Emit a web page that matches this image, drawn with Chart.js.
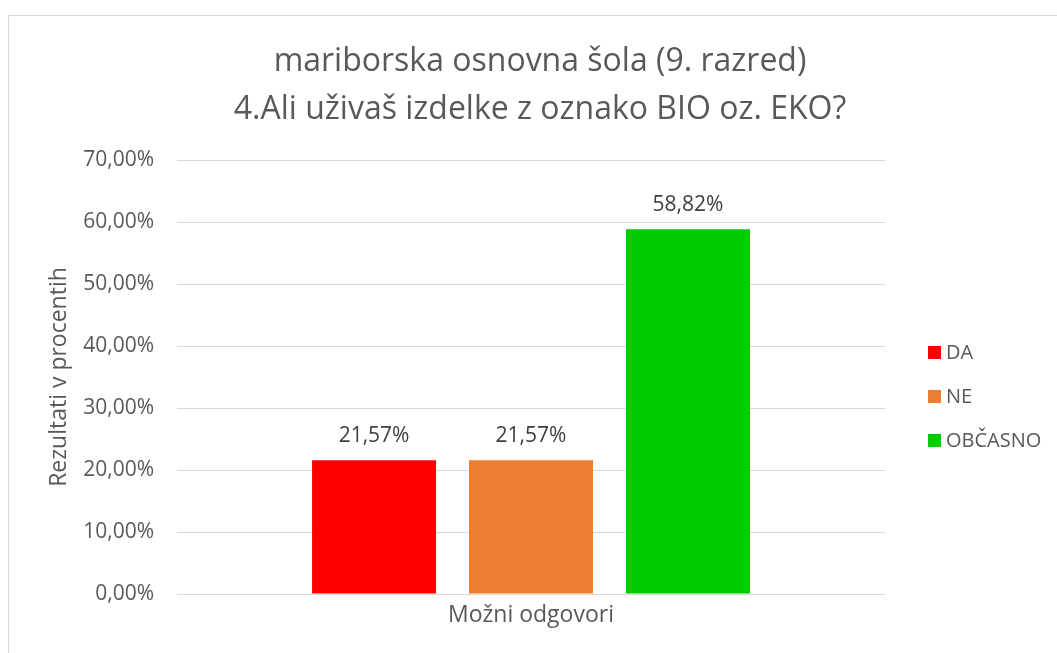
<!DOCTYPE html>
<html>
<head>
<meta charset="utf-8">
<script src="https://cdn.jsdelivr.net/npm/chart.js@4/dist/chart.umd.min.js"></script>
<style>
    html, body { margin: 0; padding: 0; background: #fff; }
    #wrap { position: relative; width: 1057px; height: 653px; overflow: hidden; }
    #frame { position: absolute; left: 8px; top: 15px; width: 2000px; height: 2000px;
             border-left: 1px solid #d9d9d9; border-top: 1px solid #d9d9d9; }
    canvas { position: absolute; left: 0; top: 0; }
</style>
</head>
<body>
<div id="wrap">
    <div id="frame"></div>
    <canvas id="bioChart"></canvas>
</div>
<script>
const categories = ["Možni odgovori"];
const seriesNames = ["DA", "NE", "OBČASNO"];
const seriesValues = [21.57, 21.57, 58.82];
const seriesColors = ["#ff0000", "#ed7d31", "#00cc00"];
const yTicks = [0, 10, 20, 30, 40, 50, 60, 70];

const FONT = "'Open Sans', sans-serif";
const TEXT = "#595959";

function pct(v) {
    return v.toFixed(2).replace(".", ",") + "%";
}

// value labels above the bars
const barLabels = {
    id: "barLabels",
    afterDatasetsDraw(chart) {
        const ctx = chart.ctx;
        ctx.save();
        ctx.font = "21px " + FONT;
        ctx.fillStyle = "#404040";
        ctx.textAlign = "center";
        ctx.textBaseline = "middle";
        chart.data.datasets.forEach((ds, i) => {
            const meta = chart.getDatasetMeta(i);
            meta.data.forEach((bar, j) => {
                ctx.fillText(pct(ds.data[j]), bar.x, bar.y - 24);
            });
        });
        ctx.restore();
    }
};

// legend on the right, drawn by hand for exact spacing
const sideLegend = {
    id: "sideLegend",
    afterDraw(chart) {
        const ctx = chart.ctx;
        ctx.save();
        ctx.font = "20px " + FONT;
        ctx.textBaseline = "middle";
        chart.data.datasets.forEach((ds, i) => {
            const y = 352 + i * 44;
            ctx.fillStyle = ds.backgroundColor;
            ctx.fillRect(928, y - 6, 13, 13);
            ctx.fillStyle = TEXT;
            ctx.fillText(ds.label, 946, y + 1);
        });
        ctx.restore();
    }
};

function drawChart() {
    const canvas = document.getElementById("bioChart");
    if (!canvas) return;
    canvas.width = 1057;
    canvas.height = 653;
    const ctx = canvas.getContext("2d");
    new Chart(ctx, {
        type: "bar",
        data: {
            labels: categories,
            datasets: seriesNames.map((name, i) => ({
                label: name,
                data: [seriesValues[i]],
                backgroundColor: seriesColors[i],
                categoryPercentage: 0.665,
                barPercentage: 0.79
            }))
        },
        options: {
            responsive: false,
            animation: false,
            layout: { padding: { left: 40, right: 17, top: 0, bottom: 0 } },
            plugins: {
                legend: { display: false },
                tooltip: { enabled: false },
                title: {
                    display: true,
                    text: ["mariborska osnovna šola (9. razred)", "4.Ali uživaš izdelke z oznako BIO oz. EKO?"],
                    color: TEXT,
                    font: { family: FONT, size: 32, weight: "normal", lineHeight: 1.5 },
                    padding: { top: 38, bottom: 26 }
                }
            },
            scales: {
                x: {
                    grid: { display: false, drawTicks: false },
                    border: { display: false },
                    ticks: { color: TEXT, font: { family: FONT, size: 23 }, padding: 8 },
                    afterFit(scale) { scale.height = 59; }
                },
                y: {
                    min: 0,
                    max: 70,
                    afterBuildTicks(scale) { scale.ticks = yTicks.map(v => ({ value: v })); },
                    grid: { color: "#d9d9d9", lineWidth: 1, drawTicks: false },
                    border: { display: false },
                    ticks: {
                        color: TEXT,
                        font: { family: FONT, size: 21 },
                        padding: 23,
                        callback: v => pct(v)
                    },
                    title: {
                        display: true,
                        text: "Rezultati v procentih",
                        color: TEXT,
                        font: { family: FONT, size: 23 },
                        padding: { top: 6, bottom: 0 }
                    },
                    afterFit(scale) { scale.width = 137; }
                },
                // empty right-hand axis that only reserves room for the legend
                yLegend: {
                    position: "right",
                    min: 0,
                    max: 70,
                    grid: { display: false },
                    border: { display: false },
                    ticks: { display: false },
                    afterFit(scale) { scale.width = 155; }
                }
            }
        },
        plugins: [barLabels, sideLegend]
    });
}

document.addEventListener("DOMContentLoaded", () => {
    drawChart();
});
</script>
</body>
</html>
